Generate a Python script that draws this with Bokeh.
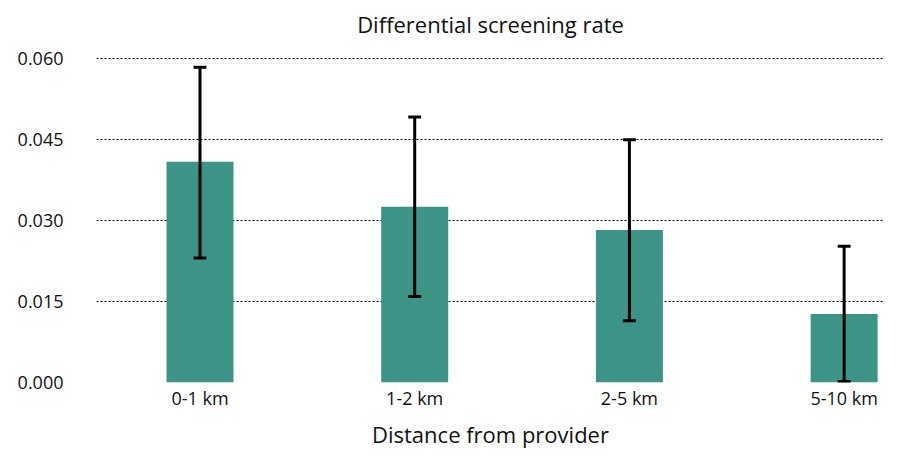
from bokeh.plotting import figure
from bokeh.models import ColumnDataSource, Range1d, FixedTicker, NumeralTickFormatter
from bokeh.embed import file_html
from bokeh.resources import INLINE

categories = ["0-1 km", "1-2 km", "2-5 km", "5-10 km"]
rates = [0.0408, 0.0325, 0.0282, 0.01265]
err_upper = [0.0583, 0.0491, 0.0449, 0.0252]
err_lower = [0.0230, 0.0159, 0.0114, 0.0002]
y_ticks = [0.0, 0.015, 0.030, 0.045, 0.060]

xs = list(range(len(categories)))
cap = 0.03
src = ColumnDataSource(dict(x=xs, top=rates, upper=err_upper, lower=err_lower,
                            x0=[x - cap for x in xs], x1=[x + cap for x in xs]))

FONT = "Open Sans"

p = figure(width=884, height=451, output_backend="svg", toolbar_location=None,
           x_range=Range1d(-0.482, 3.188), y_range=Range1d(0, 0.0625),
           min_border_left=96, min_border_right=0, min_border_top=0,
           min_border_bottom=0, outline_line_color=None,
           title="Differential screening rate")
p.title.align = "center"
p.title.text_font = FONT
p.title.text_font_size = "22px"
p.title.text_font_style = "normal"
p.title.text_color = "#111111"
p.title.offset = 0
p.title.standoff = 12

p.vbar(x="x", top="top", width=0.312, bottom=0, source=src,
       fill_color="#3C9486", line_color=None)

p.segment(x0="x", y0="lower", x1="x", y1="upper", source=src,
          line_color="black", line_width=3)
p.segment(x0="x0", y0="upper", x1="x1", y1="upper", source=src,
          line_color="black", line_width=3)
p.segment(x0="x0", y0="lower", x1="x1", y1="lower", source=src,
          line_color="black", line_width=3)

p.xgrid.grid_line_color = None
p.ygrid.grid_line_color = "#000000"
p.ygrid.grid_line_dash = "2 2"
p.ygrid.grid_line_width = 1
p.ygrid.ticker = FixedTicker(ticks=y_ticks)
p.ygrid.level = "underlay"

p.yaxis.ticker = FixedTicker(ticks=y_ticks)
p.yaxis.formatter = NumeralTickFormatter(format="0.000")
p.xaxis.ticker = FixedTicker(ticks=xs)
p.xaxis.major_label_overrides = {i: c for i, c in enumerate(categories)}

for ax in (p.xaxis[0], p.yaxis[0]):
    ax.axis_line_color = None
    ax.major_tick_line_color = None
    ax.minor_tick_line_color = None
    ax.major_tick_out = 0
    ax.major_tick_in = 0
    ax.major_label_text_font = FONT
    ax.major_label_text_font_size = "18px"
    ax.major_label_text_color = "#111111"

p.yaxis.major_label_standoff = 33
p.xaxis.major_label_standoff = 3
p.xaxis.axis_label = "Distance from provider"
p.xaxis.axis_label_text_font = FONT
p.xaxis.axis_label_text_font_size = "22px"
p.xaxis.axis_label_text_font_style = "normal"
p.xaxis.axis_label_text_color = "#111111"
p.xaxis.axis_label_standoff = 6

open("out.html", "w").write(file_html(p, INLINE))
